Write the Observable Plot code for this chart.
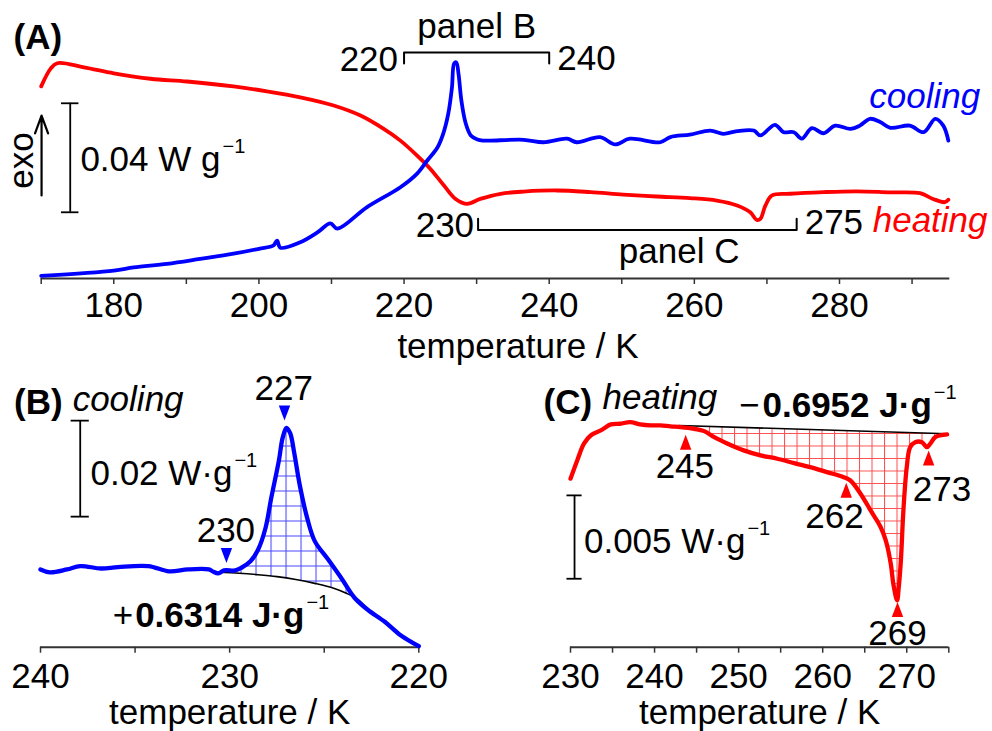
<!DOCTYPE html>
<html>
<head>
<meta charset="utf-8">
<script src="https://cdn.jsdelivr.net/npm/d3@7"></script>
<script src="https://cdn.jsdelivr.net/npm/@observablehq/plot@0.6"></script>
<style>
  html, body { margin: 0; padding: 0; background: #fff; }
  #fig { position: relative; width: 992px; height: 731px; overflow: hidden; background: #fff; }
  #fig svg { position: absolute; overflow: visible; }
</style>
</head>
<body>
<div id="fig"></div>
<script>
// ---------------- Panel A: full DSC traces (temperature in K, heat flow in mW/g, arbitrary offset) ----------------
const tempCoolA = [170.0,180.0,182.75,187.35,191.9,196.5,200.0,202.0,202.5,202.96,205.7,208.06,209.85,210.8,214.9,219.5,221.8,223.2,224.6,225.4,226.1,226.6,226.9,227.2,227.5,227.9,228.5,229.2,230.1,230.9,231.9,236.5,239.2,242.45,243.8,247.0,249.1,251.1,255.3,256.7,259.4,262.2,264.0,265.9,268.2,269.1,271.1,272.3,273.7,274.8,276.2,277.8,279.4,281.5,282.8,284.2,285.6,287.0,289.7,291.6,293.2,294.3,295.0];
const flowCoolA = [1.0,2.9,4.1,5.4,7.2,9.1,10.9,12.1,13.9,11.3,13.3,16.9,20.2,18.3,26.2,33.5,38.5,43.3,48.1,53.2,60.6,70.1,78.9,79.3,75.2,65.3,56.9,52.5,51.0,50.6,50.6,50.9,50.0,51.3,50.0,51.9,49.2,51.3,50.0,51.9,52.8,54.3,53.1,54.1,54.3,52.5,56.4,53.7,53.7,51.3,55.2,53.3,56.1,54.9,56.1,58.6,57.4,55.3,56.1,53.7,58.6,56.1,50.6];
const tempHeatA = [170.0,171.3,172.2,175.9,180.0,185.05,190.1,196.5,201.1,205.7,210.3,214.0,217.2,219.5,221.8,223.6,225.5,227.1,228.7,230.5,233.3,236.5,241.1,245.7,250.2,254.8,259.4,263.1,265.9,267.7,268.6,269.1,269.8,270.7,273.2,277.8,282.4,287.0,291.1,292.9,294.5,295.0];
const flowHeatA = [70.5,77.0,79.0,77.5,75.3,73.3,72.3,70.5,68.7,66.5,63.5,59.8,54.9,50.6,45.1,40.3,34.1,29.2,27.4,29.2,31.1,31.9,32.3,31.7,30.8,30.1,29.5,28.6,26.8,24.3,21.5,21.9,26.8,30.5,31.1,31.7,32.0,31.6,31.3,29.2,28.0,28.9];
const ticksA = [170,180,190,200,210,220,230,240,250,260,270,280,290];
const tickLabelsA = [180,200,220,240,260,280];

// ---------------- Panel B: cooling, 240 -> 220 K ----------------
const tempCoolB = [240.0,239.5,238.6,237.9,236.8,235.9,234.3,233.2,232.2,231.1,230.9,230.6,230.3,229.7,229.4,228.9,228.5,228.1,227.8,227.4,227.2,227.0,226.8,226.6,226.3,225.9,225.5,224.8,224.1,223.4,222.7,221.8,221.0,220.0];
const flowCoolB = [16.2,15.6,16.2,16.9,16.4,16.7,16.9,15.8,16.2,16.2,15.8,15.4,16.0,16.0,16.5,17.9,20.3,24.9,31.1,38.8,43.6,45.7,44.6,40.8,33.9,26.9,22.1,18.3,14.4,10.3,7.8,5.3,2.6,0.2];
const baseTempB = [230.6,229.5,228.5,227.5,226.5,225.5,224.5,223.8,223.2,222.5,221.8,221.0,220.0];
const baseFlowB = [15.6,15.4,15.1,14.7,14.1,13.3,12.3,11.2,9.9,7.1,5.1,2.5,0.2];
const peakTempB = [227.1, 230.17];
const peakMarkFlowB = [48.8, 19.1];
const peakLabelsB = ["227", "230"];
const ticksB = [240,235,230,225,220];
const tickLabelsB = [240,230,220];

// ---------------- Panel C: heating, 230 -> 275 K ----------------
const tempHeatC = [230.0,230.8,231.6,232.4,233.6,234.8,235.9,237.1,238.3,239.5,240.7,241.9,243.1,244.7,245.9,247.1,248.7,250.6,252.6,254.6,256.6,258.5,260.5,262.5,263.3,264.5,265.7,266.9,267.5,268.1,268.4,268.85,269.05,269.3,269.6,270.0,270.4,271.0,271.8,272.4,272.8,273.4,274.8];
const flowHeatC = [10.07,11.16,12.16,12.65,12.95,13.31,13.35,13.45,13.31,13.25,13.25,13.19,13.15,13.05,12.91,12.55,12.16,11.76,11.46,11.26,11.0,10.76,10.46,10.16,9.96,9.17,8.17,7.17,6.38,4.98,3.79,2.8,3.6,5.18,8.17,10.76,11.95,12.25,12.25,11.95,12.16,12.55,12.71];
const baseTempC = [242.9, 274.8];
const baseFlowC = [13.25, 12.75];
const peakTempC = [243.7, 262.8, 268.9, 272.6];
const peakMarkFlowC = [12.25, 9.37, 2.25, 11.3];
const peakLabelsC = ["245", "262", "269", "273"];
const ticksC = [230,235,240,245,250,255,260,265,270,275];
const tickLabelsC = [230,240,250,260,270];

// ---------------- styling ----------------
const FONT = '"Liberation Sans", Arial, Helvetica, sans-serif';
const BLUE = "#0000ff", RED = "#ff0000", INK = "#000000", AXIS = "#333333";
const FS = 35;

const zipTV = (ts, vs) => ts.map((t, i) => ({t, v: vs[i]}));
const coolA = zipTV(tempCoolA, flowCoolA);
const heatA = zipTV(tempHeatA, flowHeatA);
const coolB = zipTV(tempCoolB, flowCoolB);
const baseB = zipTV(baseTempB, baseFlowB);
const heatC = zipTV(tempHeatC, flowHeatC);
const baseC = zipTV(baseTempC, baseFlowC);

// hatched regions: trace segment + baseline back (closed polygon)
const bLo = baseTempB[8], bHi = baseTempB[0];
const polyB = coolB.filter(d => d.t <= bHi && d.t >= bLo).concat(baseB.filter(d => d.t <= bHi && d.t >= bLo).reverse());
const cLo = baseTempC[0], cHi = baseTempC[1];
const polyC = heatC.filter(d => d.t >= cLo && d.t <= cHi).concat(baseC.slice().reverse());

const tallTriangle = {
  draw(ctx, size) {
    const r = Math.sqrt(size / Math.PI);
    ctx.moveTo(0, -1.25 * r);
    ctx.lineTo(0.95 * r, 1.25 * r);
    ctx.lineTo(-0.95 * r, 1.25 * r);
    ctx.closePath();
  }
};

function txt(s, t, v, o = {}) {
  return Plot.text([s], {x: [t], y: [v], text: d => d, fontSize: FS, fill: INK, lineAnchor: "middle", textAnchor: "middle", ...o});
}
function axisMarks(ticks, labels, pad) {
  return [
    Plot.ruleY([0], {stroke: AXIS, strokeWidth: 2}),
    Plot.axisX({ticks, tickFormat: d => labels.includes(d) ? String(d) : "", tickSize: 6, tickPadding: pad,
      fontSize: FS, stroke: AXIS, strokeWidth: 1.5, fill: INK, label: null})
  ];
}
function scaleBar(t, from, to, half) {
  return [
    Plot.ruleX([t], {y1: [from], y2: [to], stroke: INK, strokeWidth: 1.8}),
    Plot.ruleY([from, to], {x1: t - half, x2: t + half, stroke: INK, strokeWidth: 1.8})
  ];
}
function base(opts) {
  return {
    ...opts,
    style: {fontFamily: FONT, fontSize: FS + "px", overflow: "visible", background: "transparent", color: INK}
  };
}

// ---------------- Panel A ----------------
const plotA = Plot.plot(base({
  width: 992, height: 370,
  marginLeft: 40.7, marginRight: 42.7, marginTop: 5.5, marginBottom: 92,
  x: {domain: [170, 295.2], label: null},
  y: {domain: [0, 100], axis: null},
  marks: [
    ...axisMarks(ticksA, tickLabelsA, 8),
    Plot.text(["temperature / K"], {x: [235.7], frameAnchor: "bottom", dy: 68, text: d => d, fontSize: FS, fill: INK, lineAnchor: "middle"}),
    Plot.line(heatA, {x: "t", y: "v", stroke: RED, strokeWidth: 3.8, curve: "catmull-rom"}),
    Plot.line(coolA, {x: "t", y: "v", stroke: BLUE, strokeWidth: 3.8, curve: "catmull-rom"}),
    ...scaleBar(174.0, 24.3, 64.3, 1.2),
    Plot.arrow([0], {x1: [170.05], y1: [30.5], x2: [170.05], y2: [59.8], stroke: INK, strokeWidth: 2.2, headLength: 13, headAngle: 40}),
    txt("exo", 168.9, 43.3, {rotate: -90, lineAnchor: "bottom"}),
    txt("0.04 W g⁻¹", 175.4, 43.5, {textAnchor: "start"}),
    txt("(A)", 166.2, 88.3, {textAnchor: "start", fontWeight: "bold"}),
    Plot.line(zipTV([220, 220, 240, 240], [78.9, 82.9, 82.9, 78.9]), {x: "t", y: "v", stroke: INK, strokeWidth: 2}),
    txt("220", 220, 80.4, {textAnchor: "end", dx: -6}),
    txt("240", 240, 80.6, {textAnchor: "start", dx: 8}),
    txt("panel B", 230, 92.3),
    Plot.line(zipTV([230.2, 230.2, 274.1, 274.1], [21.9, 17.8, 17.8, 21.9]), {x: "t", y: "v", stroke: INK, strokeWidth: 2}),
    txt("230", 230.2, 19.4, {textAnchor: "end", dx: -4}),
    txt("275", 274.1, 20.4, {textAnchor: "start", dx: 8}),
    txt("panel C", 257.9, 9.7),
    txt("cooling", 299.4, 62.6, {textAnchor: "end", lineAnchor: "bottom", fontStyle: "italic", fill: BLUE}),
    txt("heating", 300.4, 17.0, {textAnchor: "end", lineAnchor: "bottom", fontStyle: "italic", fill: RED})
  ]
}));

// ---------------- Panel B ----------------
const plotB = Plot.plot(base({
  width: 496, height: 361,
  marginLeft: 40, marginRight: 77.7, marginTop: 12.7, marginBottom: 84.3,
  x: {domain: [240, 220], label: null},
  y: {domain: [0, 55], axis: null},
  marks: [
    ...axisMarks(ticksB, tickLabelsB, 10),
    Plot.text(["temperature / K"], {x: [230], frameAnchor: "bottom", dy: 66, text: d => d, fontSize: FS, fill: INK, lineAnchor: "middle"}),
    Plot.line(polyB, {x: "t", y: "v", fill: "url(#hatchB)", stroke: "none"}),
    Plot.line(baseB, {x: "t", y: "v", stroke: INK, strokeWidth: 1.6, curve: "catmull-rom"}),
    Plot.line(coolB, {x: "t", y: "v", stroke: BLUE, strokeWidth: 4.3, curve: "catmull-rom"}),
    Plot.dot(peakTempB, {x: d => d, y: (d, i) => peakMarkFlowB[i], symbol: tallTriangle, r: 6, rotate: 180, fill: BLUE, stroke: "none"}),
    txt(peakLabelsB[0], 227.14, 53.9),
    txt(peakLabelsB[1], 230.2, 24.3),
    ...scaleBar(237.9, 27.2, 47.2, 0.48),
    txt("0.02 W·g⁻¹", 237.36, 36.1, {textAnchor: "start"}),
    txt("(B)", 241.4, 51.0, {textAnchor: "start", fontWeight: "bold"}),
    txt("cooling", 238.3, 49.2, {textAnchor: "start", lineAnchor: "bottom", fontStyle: "italic"}),
    txt("+", 235.05, 6.6, {textAnchor: "end", dx: -1}),
    txt("0.6314 J·g⁻¹", 235.05, 6.6, {textAnchor: "start", dx: 1, fontWeight: "bold"})
  ]
}));

// ---------------- Panel C ----------------
const plotC = Plot.plot(base({
  width: 496, height: 361,
  marginLeft: 74, marginRight: 43.7, marginTop: 8.9, marginBottom: 84.3,
  x: {domain: [230, 275], label: null},
  y: {domain: [0, 16], axis: null},
  marks: [
    ...axisMarks(ticksC, tickLabelsC, 10),
    Plot.text(["temperature / K"], {x: [252.5], frameAnchor: "bottom", dy: 66, text: d => d, fontSize: FS, fill: INK, lineAnchor: "middle"}),
    Plot.line(polyC, {x: "t", y: "v", fill: "url(#hatchC)", stroke: "none"}),
    Plot.line(baseC, {x: "t", y: "v", stroke: INK, strokeWidth: 1.6}),
    Plot.line(heatC, {x: "t", y: "v", stroke: RED, strokeWidth: 4.3, curve: "catmull-rom"}),
    Plot.dot(peakTempC, {x: d => d, y: (d, i) => peakMarkFlowC[i], symbol: tallTriangle, r: 6, fill: RED, stroke: "none"}),
    txt(peakLabelsC[0], 243.6, 10.76),
    txt(peakLabelsC[1], 261.4, 7.82),
    txt(peakLabelsC[2], 268.9, 0.8),
    txt(peakLabelsC[3], 274.2, 9.4),
    ...scaleBar(230.48, 4.09, 9.07, 0.9),
    txt("0.005 W·g⁻¹", 231.6, 6.28, {textAnchor: "start"}),
    txt("(C)", 226.8, 14.6, {textAnchor: "start", fontWeight: "bold"}),
    txt("heating", 233.8, 14.25, {textAnchor: "start", lineAnchor: "bottom", fontStyle: "italic"}),
    txt("−", 252.6, 14.4, {textAnchor: "end", dx: -1}),
    txt("0.6952 J·g⁻¹", 252.6, 14.4, {textAnchor: "start", dx: 2, fontWeight: "bold"})
  ]
}));

// ---------------- assemble ----------------
const NS = "http://www.w3.org/2000/svg";
function addHatch(svg, id, color, step) {
  const defs = document.createElementNS(NS, "defs");
  const p = document.createElementNS(NS, "pattern");
  p.setAttribute("id", id);
  p.setAttribute("patternUnits", "userSpaceOnUse");
  p.setAttribute("width", step);
  p.setAttribute("height", step);
  const path = document.createElementNS(NS, "path");
  path.setAttribute("d", `M0,0.5H${step}M0.5,0V${step}`);
  path.setAttribute("stroke", color);
  path.setAttribute("stroke-width", 1.1);
  path.setAttribute("fill", "none");
  p.appendChild(path);
  defs.appendChild(p);
  svg.insertBefore(defs, svg.firstChild);
}
function superscripts(svg) {
  svg.querySelectorAll("text").forEach(el => {
    const s = el.textContent;
    if (s.endsWith("⁻¹")) {
      el.textContent = s.slice(0, -2);
      const ts = document.createElementNS(NS, "tspan");
      ts.setAttribute("font-size", 20);
      ts.setAttribute("font-weight", "normal");
      ts.setAttribute("dy", -18);
      ts.setAttribute("dx", 2);
      ts.textContent = "−1";
      el.appendChild(ts);
    }
  });
}

const fig = document.getElementById("fig");
addHatch(plotB, "hatchB", "#4a4aff", 15);
addHatch(plotC, "hatchC", "#ff5050", 12.5);
[[plotA, 0, 0], [plotB, 0, 370], [plotC, 496, 370]].forEach(([svg, left, top]) => {
  svg.style.left = left + "px";
  svg.style.top = top + "px";
  superscripts(svg);
  fig.appendChild(svg);
});
</script>
</body>
</html>
